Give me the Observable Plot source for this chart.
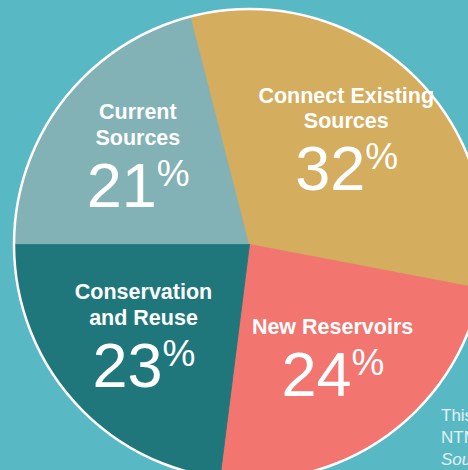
<!DOCTYPE html>
<html><head><meta charset="utf-8">
<script src="https://cdn.jsdelivr.net/npm/d3@7"></script>
<script src="https://cdn.jsdelivr.net/npm/@observablehq/plot@0.6"></script>
<style>
html,body{margin:0;padding:0;background:#58b9c4;width:468px;height:470px;overflow:hidden;}
#wrap{position:relative;width:468px;height:470px;overflow:hidden;}
#note{position:absolute;left:441px;top:405px;font:17px "Liberation Sans",Arial,sans-serif;line-height:22px;color:#e2f2f4;white-space:nowrap;}
</style></head><body>
<div id="wrap"><div id="chart"></div>
<div id="note">This chart shows<br>NTMWD supply<br><i>Source: NTMWD</i></div></div>
<script>
const categories = ["Current Sources", "Connect Existing Sources", "New Reservoirs", "Conservation and Reuse"];
const labelLines = ["Current\nSources", "Connect Existing\nSources", "New Reservoirs", "Conservation\nand Reuse"];
const shares = [21, 32, 24, 23];
const colors = ["#82b1b6", "#d4ad5e", "#f2756f", "#1f777c"];

const startDeg = 270;        // clockwise from 12 o'clock
const R = 235.5;             // px per data unit
const font = "Liberation Sans, Arial, sans-serif";

const total = d3.sum(shares);
let acc = startDeg;
const slices = [];
const labels = [];
categories.forEach((c, i) => {
  const a0 = acc, a1 = acc + shares[i] / total * 360; acc = a1;
  const pts = [{x: 0, y: 0}];
  const steps = Math.ceil((a1 - a0) / 0.5);
  for (let k = 0; k <= steps; k++) {
    const a = (a0 + (a1 - a0) * k / steps) * Math.PI / 180;
    pts.push({x: Math.sin(a), y: Math.cos(a)});
  }
  pts.push({x: 0, y: 0});
  slices.push({cat: c, color: colors[i], pts});
  const am = (a0 + a1) / 2 * Math.PI / 180;
  const cx = 0.6 * Math.sin(am), cy = 0.6 * Math.cos(am);
  const n = labelLines[i].split("\n").length;
  const nb = 37 + 12 * (n - 1);
  const yNum = cy - nb / R;
  labels.push({x: cx, yNum, yLab: yNum + 62 / R, lines: labelLines[i], num: String(shares[i])});
});

const marks = [];
slices.forEach(s => {
  marks.push(Plot.line(s.pts, {x: "x", y: "y", fill: s.color, stroke: s.color, strokeWidth: 0.8, curve: "linear"}));
});
marks.push(Plot.dot([{x: 0, y: 0}], {x: "x", y: "y", r: R, fill: "none", stroke: "white", strokeWidth: 2.5}));
marks.push(Plot.text(labels, {x: "x", y: "yLab", text: "lines", lineAnchor: "bottom", textAnchor: "middle",
  fontSize: 21.5, fontWeight: "bold", fill: "white", lineHeight: 25.5 / 21.5, fontFamily: font}));
marks.push(Plot.text(labels, {x: "x", y: "yNum", text: "num", lineAnchor: "bottom", textAnchor: "end", dx: 19,
  fontSize: 63, fill: "white", fontFamily: font}));
marks.push(Plot.text(labels, {x: "x", y: "yNum", text: () => "%", lineAnchor: "bottom", textAnchor: "start", dx: 19, dy: -21,
  fontSize: 37, fill: "white", fontFamily: font}));

const chart = Plot.plot({
  width: 468, height: 470,
  margin: 0,
  x: {domain: [-1, 1], range: [249 - R, 249 + R], axis: null},
  y: {domain: [-1, 1], range: [244 + R, 244 - R], axis: null},
  style: {background: "none", overflow: "hidden"},
  marks
});
document.getElementById("chart").appendChild(chart);
</script>
</body></html>
